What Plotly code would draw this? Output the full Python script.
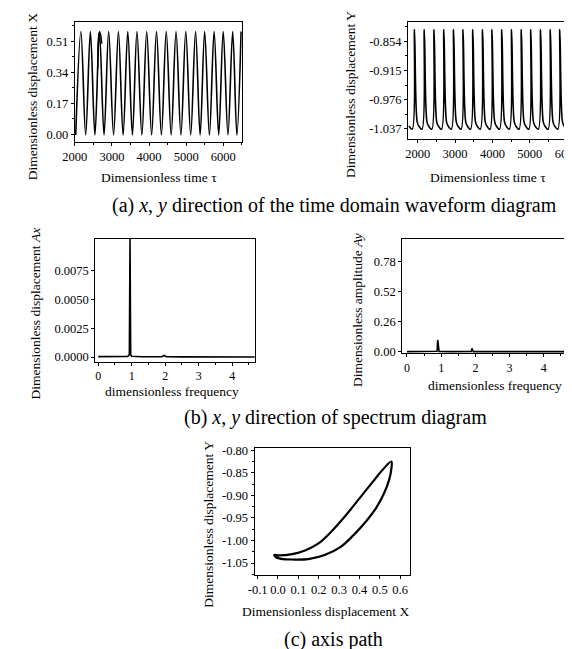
import plotly.graph_objects as go

# ---------------- data ----------------
# (a) x-direction time waveform
x_peak_t = [2166, 2421, 2665, 2913, 3176, 3428, 3675, 3938, 4201, 4464, 4727, 4990, 5253, 5498, 5753, 5998, 6253, 6479]
x_peak_v = [0.564, 0.564, 0.564, 0.564, 0.564, 0.564, 0.564, 0.564, 0.564, 0.564, 0.564, 0.564, 0.564, 0.564, 0.564, 0.564, 0.564, 0.564]
x_trough_t = [2026, 2294, 2543, 2789, 3045, 3302, 3552, 3807, 4070, 4333, 4596, 4859, 5122, 5376, 5626, 5876, 6126, 6366]
x_trough_v = [-0.005, -0.005, -0.005, -0.005, -0.005, -0.005, -0.005, -0.005, -0.005, -0.005, -0.005, -0.005, -0.005, -0.005, -0.005, -0.005, -0.005, -0.005]
# small overlapping segment near tau ~ 2650
glitch_t = [2622, 2624, 2648, 2672, 2705, 2728]
glitch_v = [0.36, 0.494, 0.55, 0.562, 0.54, 0.497]

# (a) y-direction time waveform
y_peak_t = [1914, 2176, 2437, 2699, 2960, 3213, 3474, 3735, 3988, 4250, 4511, 4772, 5025, 5287, 5548, 5801, 6062, 6323]
y_peak_v = [-0.829, -0.829, -0.829, -0.829, -0.829, -0.829, -0.829, -0.829, -0.829, -0.829, -0.829, -0.829, -0.829, -0.829, -0.829, -0.829, -0.829, -0.829]
y_knee_t = [1984, 2246, 2507, 2769, 3030, 3283, 3544, 3805, 4058, 4320, 4581, 4842, 5095, 5357, 5618, 5871, 6132]
y_knee_v = [-1.022, -1.022, -1.022, -1.022, -1.022, -1.022, -1.022, -1.022, -1.022, -1.022, -1.022, -1.022, -1.022, -1.022, -1.022, -1.022, -1.022]
y_kink_t = [1766, 2027, 2289, 2550, 2812, 3073, 3326, 3587, 3848, 4101, 4363, 4624, 4885, 5138, 5400, 5661, 5914, 6175]
y_kink_v = [-1.031, -1.031, -1.031, -1.031, -1.031, -1.031, -1.031, -1.031, -1.031, -1.031, -1.031, -1.031, -1.031, -1.031, -1.031, -1.031, -1.031, -1.031]
y_min_t = [1853, 2114, 2376, 2637, 2899, 3160, 3413, 3674, 3935, 4188, 4450, 4711, 4972, 5225, 5487, 5748, 6001, 6262]
y_min_v = [-1.038, -1.038, -1.038, -1.038, -1.038, -1.038, -1.038, -1.038, -1.038, -1.038, -1.038, -1.038, -1.038, -1.038, -1.038, -1.038, -1.038, -1.038]

# (b) spectra
fx = [0.0, 0.5, 0.88, 0.93, 0.95, 0.97, 1.0, 1.3, 1.9, 1.97, 2.04, 2.5, 3.0, 3.5, 4.0, 4.7]
ax_amp = [0.00004, 0.00004, 0.00006, 0.0002, 0.0102, 0.0002, 0.00008, 0.00003, 0.00003, 0.00014, 0.00003, 0.00002, 0.00002, 0.00001, 0.00001, 0.00001]
fy = [0.0, 0.5, 0.86, 0.88, 0.9, 0.92, 0.94, 1.3, 1.86, 1.88, 1.9, 1.92, 1.94, 2.3, 3.0, 4.0, 5.0]
ay_amp = [0.003, 0.003, 0.004, 0.006, 0.104, 0.006, 0.004, 0.003, 0.003, 0.005, 0.031, 0.005, 0.003, 0.003, 0.003, 0.003, 0.003]

# (c) axis orbit (upper branch then lower branch)
orbit_x = [0.557, 0.514, 0.467, 0.403, 0.324, 0.260, 0.197, 0.133, 0.070, 0.006, -0.018,
           -0.010, 0.022, 0.070, 0.149, 0.229, 0.308, 0.371, 0.435, 0.483, 0.522, 0.546, 0.557, 0.557]
orbit_y = [-0.825, -0.843, -0.869, -0.905, -0.949, -0.981, -1.007, -1.022, -1.030, -1.033, -1.032,
           -1.037, -1.041, -1.042, -1.041, -1.032, -1.014, -0.988, -0.956, -0.927, -0.894, -0.865, -0.840, -0.825]

# tick values and labels
tl_yticks = [0.0, 0.17, 0.34, 0.51]
tl_ylabels = ["0.00", "0.17", "0.34", "0.51"]
tr_yticks = [-1.037, -0.976, -0.915, -0.854]
tr_ylabels = ["-1.037", "-0.976", "-0.915", "-0.854"]
ml_yticks = [0.0, 0.0025, 0.005, 0.0075]
ml_ylabels = ["0.0000", "0.0025", "0.0050", "0.0075"]
mr_yticks = [0.0, 0.26, 0.52, 0.78]
mr_ylabels = ["0.00", "0.26", "0.52", "0.78"]
time_ticks = [2000, 3000, 4000, 5000, 6000]
time_labels = ["2000", "3000", "4000", "5000", "6000"]
freq_ticks = [0, 1, 2, 3, 4, 5]
freq_labels = ["0", "1", "2", "3", "4", "5"]
orb_xticks = [-0.1, 0.0, 0.1, 0.2, 0.3, 0.4, 0.5, 0.6]
orb_xlabels = ["-0.1", "0.0", "0.1", "0.2", "0.3", "0.4", "0.5", "0.6"]
orb_yticks = [-1.05, -1.00, -0.95, -0.90, -0.85, -0.80]
orb_ylabels = ["-1.05", "-1.00", "-0.95", "-0.90", "-0.85", "-0.80"]

# ---------------- build ----------------
W, H = 572, 649
FONT = "Liberation Serif"

def merge(*pairs):
    pts = []
    for ts, vs in pairs:
        pts += list(zip(ts, vs))
    pts.sort()
    return [p[0] for p in pts], [p[1] for p in pts]

xa_t, xa_v = merge((x_peak_t, x_peak_v), (x_trough_t, x_trough_v))
ya_t, ya_v = merge((y_peak_t, y_peak_v), (y_knee_t, y_knee_v), (y_kink_t, y_kink_v), (y_min_t, y_min_v))

fig = go.Figure()
fig.add_trace(go.Scatter(x=xa_t, y=xa_v, mode="lines", line=dict(color="black", width=1.6, shape="spline"), xaxis="x", yaxis="y"))
fig.add_trace(go.Scatter(x=glitch_t, y=glitch_v, mode="lines", line=dict(color="black", width=1.4), xaxis="x", yaxis="y"))
fig.add_trace(go.Scatter(x=ya_t, y=ya_v, mode="lines", line=dict(color="black", width=1.6, shape="spline"), xaxis="x2", yaxis="y2"))
fig.add_trace(go.Scatter(x=fx, y=ax_amp, mode="lines", line=dict(color="black", width=1.6), xaxis="x3", yaxis="y3"))
fig.add_trace(go.Scatter(x=fy, y=ay_amp, mode="lines", line=dict(color="black", width=1.6), xaxis="x4", yaxis="y4"))
fig.add_trace(go.Scatter(x=orbit_x, y=orbit_y, mode="lines", line=dict(color="black", width=2.2, shape="spline"), xaxis="x5", yaxis="y5"))

def dom_x(a, b):
    return [a / W, b / W]

def dom_y(top, bottom):
    return [1 - bottom / H, 1 - top / H]

def axis(domain, rng, tickvals, ticktext, anchor, minor_dtick=None, size=12.5):
    d = dict(domain=domain, range=rng, tickmode="array", tickvals=tickvals, ticktext=ticktext, anchor=anchor,
             showline=True, linecolor="black", linewidth=1, mirror=True,
             ticks="outside", ticklen=3, tickcolor="black", tickwidth=1,
             showgrid=False, zeroline=False, tickangle=0,
             tickfont=dict(family=FONT, size=size, color="black"))
    if minor_dtick:
        d["minor"] = dict(dtick=minor_dtick, ticks="outside", ticklen=2, tickcolor="black", showgrid=False)
    return d

fig.update_layout(
    width=W, height=H, margin=dict(l=0, r=0, t=0, b=0),
    paper_bgcolor="white", plot_bgcolor="white", showlegend=False,
    font=dict(family=FONT, color="black"),
    xaxis=axis(dom_x(55, 226), [2000, 6500], time_ticks, time_labels, "y", 500),
    yaxis=axis(dom_y(9.5, 131), [-0.042, 0.614], tl_yticks, tl_ylabels, "x", 0.085),
    xaxis2=axis(dom_x(396, 571), [1740, 6315], time_ticks, time_labels, "y2", 500),
    yaxis2=axis(dom_y(9, 128), [-1.058, -0.813], tr_yticks, tr_ylabels, "x2", 0.0305),
    xaxis3=axis(dom_x(76, 239), [-0.088, 4.67], freq_ticks[:5], freq_labels[:5], "y3", 0.5, 12),
    yaxis3=axis(dom_y(230, 355), [-0.00042, 0.0102], ml_yticks, ml_ylabels, "x3"),
    xaxis4=axis(dom_x(390, 570), [-0.14, 5.0], freq_ticks, freq_labels, "y4", 0.5, 12),
    yaxis4=axis(dom_y(230, 346), [-0.01, 0.975], mr_yticks, mr_ylabels, "x4"),
    xaxis5=axis(dom_x(239, 398), [-0.115, 0.648], orb_xticks, orb_xlabels, "y5"),
    yaxis5=axis(dom_y(443, 572), [-1.077, -0.796], orb_yticks, orb_ylabels, "x5", 0.025),
)

def ann(text, x, y, size=13.5, angle=0):
    fig.add_annotation(text=text, x=x / W, y=1 - y / H, xref="paper", yref="paper",
                       showarrow=False, textangle=angle, xanchor="center", yanchor="middle",
                       font=dict(family=FONT, size=size, color="black"))

# axis titles
ann("Dimensionless displacement X", 12, 85, angle=-90)
ann("Dimensionless time τ", 141, 167)
ann("Dimensionless displacement Y", 337, 83, angle=-90)
ann("Dimensionless time τ", 478, 167)
ann("Dimensionless displacement <i>Ax</i>", 15, 306, angle=-90)
ann("dimensionless frequency", 155, 385)
ann("Dimensionless amplitude <i>Ay</i>", 345, 302, angle=-90)
ann("dimensionless frequency", 485, 379)
ann("Dimensionless displacement Y", 192, 520, angle=-90)
ann("Dimensionless displacement X", 312, 609)

# captions
ann("(a) <i>x</i>, <i>y</i> direction of the time domain waveform diagram", 321, 196, size=20)
ann("(b) <i>x</i>, <i>y</i> direction of spectrum diagram", 322, 411, size=20)
ann("(c) axis path", 320, 637, size=20)

fig.write_html("out.html")
